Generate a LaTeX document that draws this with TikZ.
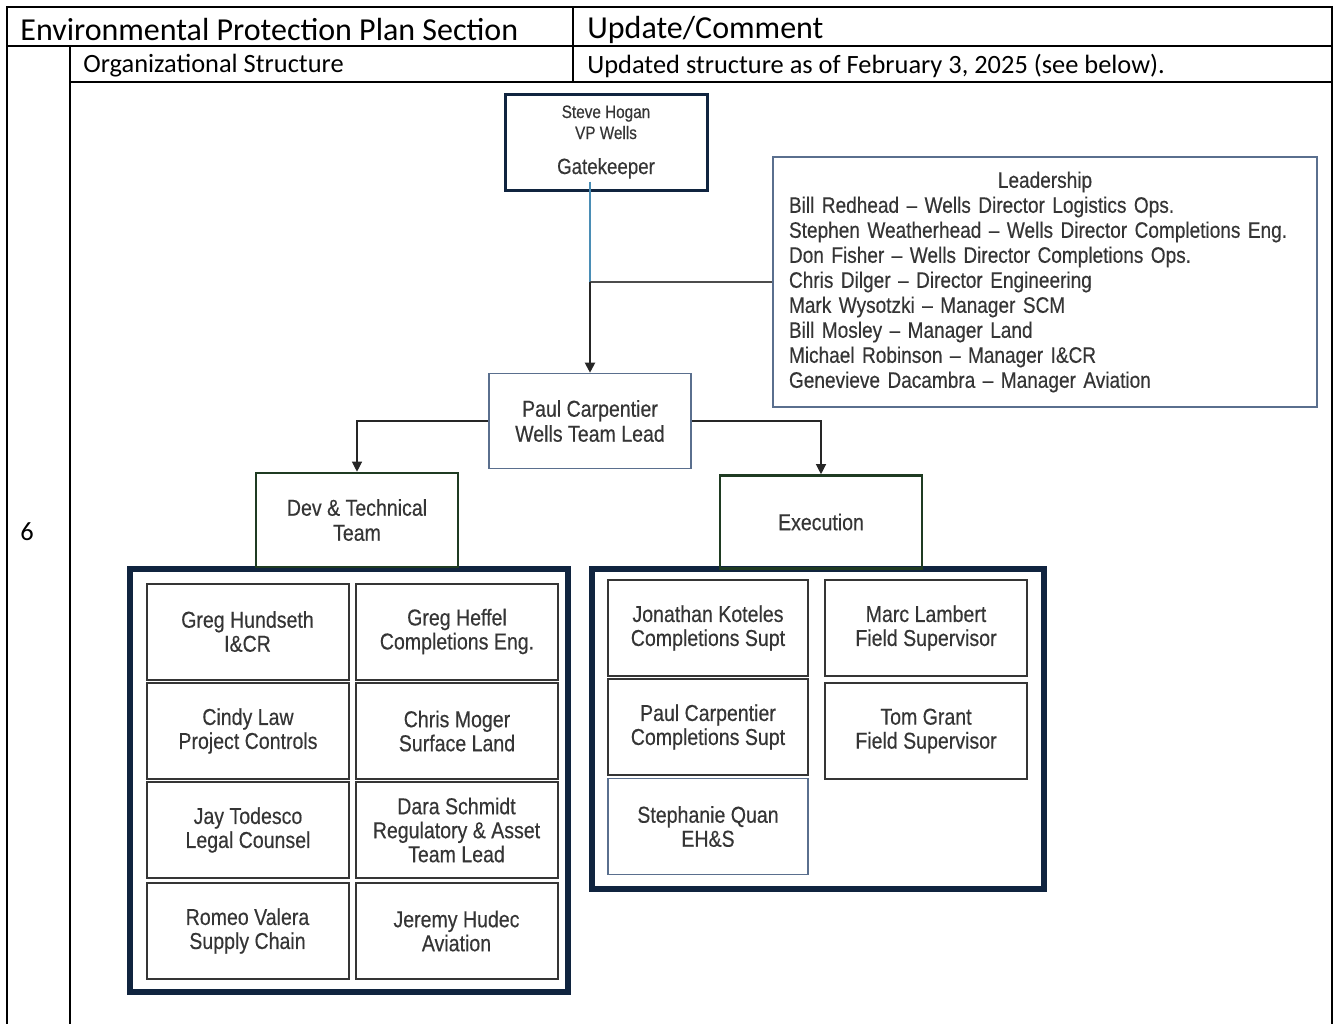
\documentclass[tikz,border=0pt]{standalone}
\usepackage{fontspec}
\setmainfont{Carlito}
\newfontfamily\chartfont[FakeStretch=0.85,FakeBold=0.4]{Liberation Sans}
\usetikzlibrary{arrows.meta}

\definecolor{navy}{HTML}{10243F}
\definecolor{pinegreen}{HTML}{1F3B22}
\definecolor{slate}{HTML}{5A6F8E}
\definecolor{ink}{HTML}{353535}
\definecolor{linkblue}{HTML}{4A8DB5}

\tikzset{
  member/.style={draw=ink, line width=1pt, minimum width=101pt, minimum height=48pt, inner sep=1pt, align=center, text=ink, font=\chartfont\fontsize{11.5}{12}\selectfont},
  team/.style={draw=pinegreen, line width=1.3pt, minimum width=101pt, minimum height=47pt, align=center, text=ink, font=\chartfont\fontsize{11.5}{12.5}\selectfont},
  teamgroup/.style={draw=navy, line width=2.6pt, inner sep=0pt},
  orglink/.style={draw=black!85, line width=0.6pt, -{Triangle[length=5pt,width=5pt]}},
  tablerule/.style={line width=1pt},
  celltext/.style={anchor=west, inner sep=0pt}
}

\begin{document}
\begin{tikzpicture}[x=0.5pt,y=-0.5pt]
\useasboundingbox (0,0) rectangle (1335,1024);

% table frame
\draw[tablerule] (7,1024) -- (7,7) -- (1332,7) -- (1332,1024);
\draw[tablerule] (7,46) -- (1332,46);
\draw[tablerule] (70,82) -- (1332,82);
\draw[tablerule] (70,46) -- (70,1024);
\draw[tablerule] (573,7) -- (573,82);

\node[celltext, font=\fontsize{16}{18}\selectfont] (sechead) at (20,30) {Environmental Protection Plan Section};
\node[celltext, font=\fontsize{16}{18}\selectfont] (updhead) at (587,30) {Update/Comment};
\node[celltext, font=\fontsize{13.2}{15}\selectfont] (secname) at (83,66) {Organizational Structure};
\node[celltext, font=\fontsize{13.2}{15}\selectfont] (secnote) at (587,66) {Updated structure as of February 3, 2025 (see below).};
\node[font=\fontsize{13.2}{15}\selectfont] (secnum) at (27,532) {6};

% org chart
\node[draw=navy, line width=1.5pt, minimum width=101pt, minimum height=48pt, align=center, text=ink, font=\chartfont\fontsize{9}{10.5}\selectfont] (gate) at (606,142) {Steve Hogan\\VP Wells\\[7pt]{\fontsize{11}{12}\selectfont Gatekeeper}};

\node[draw=slate, line width=0.9pt, text width=256pt, inner xsep=8pt, minimum height=125pt, align=left, text=ink, font=\chartfont\fontsize{11.2}{12.5}\selectfont] (lead) at (1045,282) {\hbox to 256pt{\hfil Leadership\hfil}\\
Bill Redhead – Wells Director Logistics Ops.\\
Stephen Weatherhead – Wells Director Completions Eng.\\
Don Fisher – Wells Director Completions Ops.\\
Chris Dilger – Director Engineering\\
Mark Wysotzki – Manager SCM\\
Bill Mosley – Manager Land\\
Michael Robinson – Manager I\&CR\\
Genevieve Dacambra – Manager Aviation};

\node[draw=slate, line width=0.8pt, minimum width=101pt, minimum height=47.5pt, align=center, text=ink, font=\chartfont\fontsize{11.5}{12.5}\selectfont] (wells) at (590,421) {Paul Carpentier\\Wells Team Lead};

\node[teamgroup, minimum width=219pt, minimum height=211.5pt] (devgrp) at (349,780.5) {};
\node[teamgroup, minimum width=226pt, minimum height=160pt] (execgrp) at (818,729) {};

\node[team] (devteam) at (357,520) {Dev \& Technical\\Team};
\node[team, minimum height=46.5pt] (execteam) at (821,522) {Execution};

% dev & technical members
\node[member] (hundseth) at (247.5,631.5) {Greg Hundseth\\I\&CR};
\node[member] (heffel) at (457,631.5) {Greg Heffel\\Completions Eng.};
\node[member] (law) at (248,731) {Cindy Law\\Project Controls};
\node[member] (moger) at (457,731) {Chris Moger\\Surface Land};
\node[member] (todesco) at (248,830) {Jay Todesco\\Legal Counsel};
\node[member] (schmidt) at (456.5,830) {Dara Schmidt\\Regulatory \& Asset\\Team Lead};
\node[member] (valera) at (247.5,931) {Romeo Valera\\Supply Chain};
\node[member] (hudec) at (456.5,931) {Jeremy Hudec\\Aviation};

% execution members
\node[member, minimum width=100pt] (koteles) at (708,628) {Jonathan Koteles\\Completions Supt};
\node[member] (lambert) at (926,628) {Marc Lambert\\Field Supervisor};
\node[member, minimum width=100pt] (carpentier) at (708,727) {Paul Carpentier\\Completions Supt};
\node[member] (grant) at (926,731) {Tom Grant\\Field Supervisor};
\node[member, draw=slate, line width=0.7pt, minimum width=100pt] (quan) at (708,826.5) {Stephanie Quan\\EH\&S};

% connectors
\coordinate (joint) at (wells.north |- lead.west);
\draw[linkblue, line width=0.6pt] ([yshift=5pt]wells.north |- gate.south) -- (joint);
\draw[black!70, line width=1pt] (lead.west) -- (joint);
\draw[orglink, line width=1pt] (joint) -- (wells.north);
\draw[orglink] (wells.west) -| (devteam.north);
\draw[orglink] (wells.east) -| (execteam.north);
\end{tikzpicture}
\end{document}
